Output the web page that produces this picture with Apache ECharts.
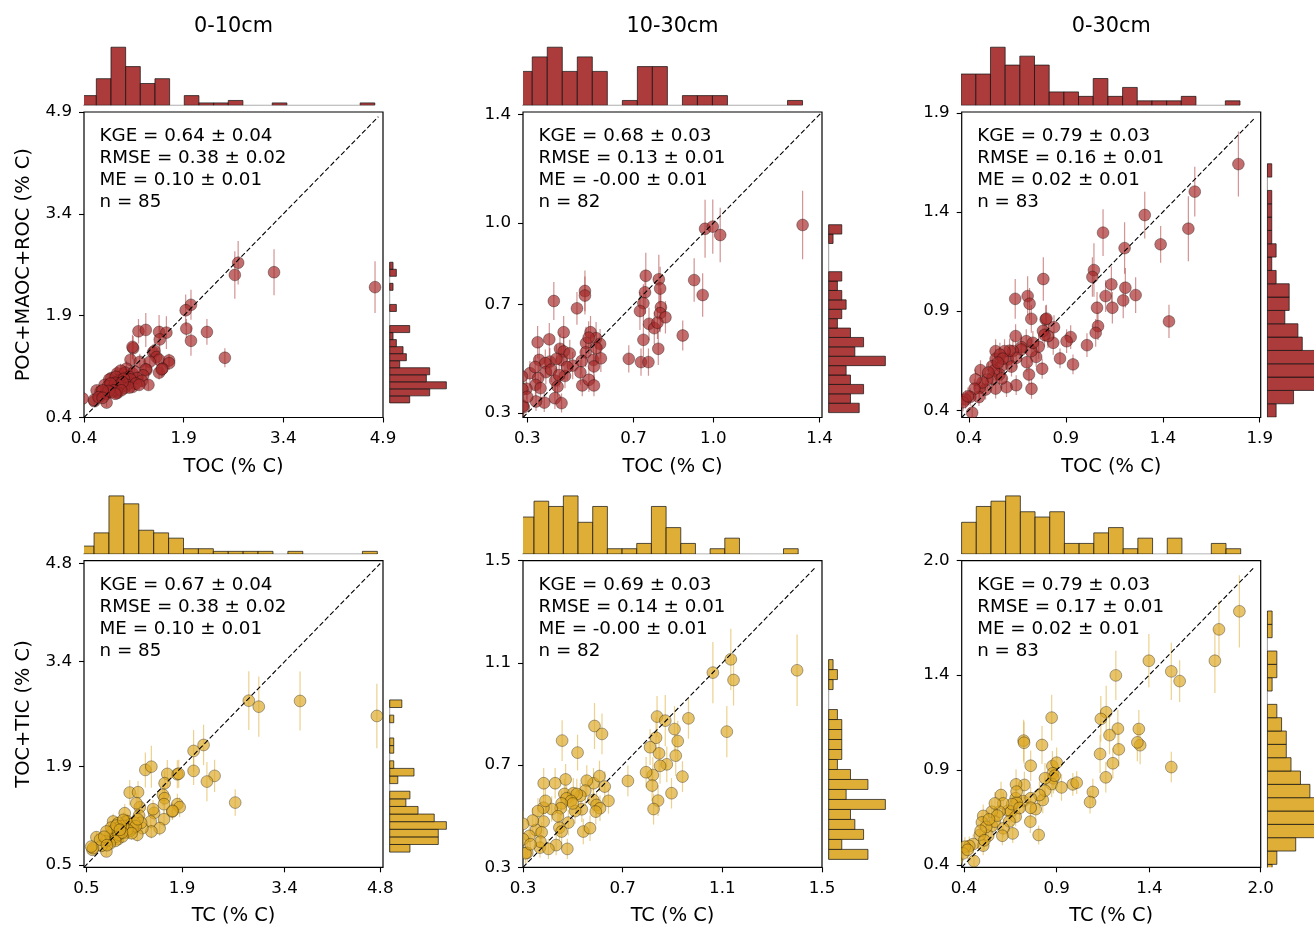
<!DOCTYPE html>
<html>
<head>
<meta charset="utf-8">
<script src="https://cdn.jsdelivr.net/npm/echarts@6/dist/echarts.min.js"></script>
<style>
  html, body { margin: 0; padding: 0; background: #fff; }
  #chart { width: 1314px; height: 926px; }
</style>
</head>
<body>
<div id="chart"></div>
<script>
// ---------------------------------------------------------------------------
// Observed vs. modelled soil carbon for three depth intervals.
// Each point: [observed, predicted, predicted uncertainty (1 sd)].
// ---------------------------------------------------------------------------
const depths = ['0-10cm', '10-30cm', '0-30cm'];
const xNames = ['TOC (% C)', 'TC (% C)'];
const yNames = ['POC+MAOC+ROC (% C)', 'TOC+TIC (% C)'];

// POC+MAOC+ROC vs TOC
const som_0_10 = [
  [4.78,2.32,0.38],[3.26,2.54,0.34],[2.72,2.68,0.32],[2.67,2.50,0.35],[2.52,1.28,0.14],[2.25,1.66,0.19],[2.01,2.06,0.22],[1.93,1.98,0.23],[1.94,1.71,0.14],[2.01,1.53,0.22],
  [1.22,1.67,0.18],[1.33,1.69,0.25],[1.53,1.66,0.25],[1.64,1.65,0.24],[1.54,1.55,0.20],
  [1.14,1.42,0.18],[1.13,1.44,0.18],[1.44,1.36,0.12],[1.46,1.38,0.13],
  [1.49,1.29,0.12],[1.10,1.25,0.10],[1.53,1.25,0.12],[1.68,1.24,0.10],
  [1.24,1.22,0.12],[1.39,1.22,0.12],[1.68,1.20,0.10],
  [1.34,1.10,0.10],[1.53,1.06,0.10],[1.58,1.12,0.10],[1.13,1.05,0.10],[1.04,1.12,0.12],[0.99,1.04,0.10],[0.90,1.05,0.10],[1.02,1.06,0.10],[1.33,1.11,0.10],[1.57,1.11,0.12],[1.16,1.08,0.10],[0.95,1.09,0.10],
  [1.29,1.02,0.10],[0.93,0.95,0.09],[0.81,0.98,0.09],[0.94,0.94,0.09],[0.78,0.96,0.08],[1.08,1.00,0.10],[1.20,0.98,0.10],[1.10,0.96,0.09],[0.88,1.00,0.10],[1.00,0.97,0.09],[1.27,0.94,0.10],
  [1.37,0.88,0.08],[1.13,0.85,0.08],[0.84,0.85,0.08],[0.71,0.88,0.08],[0.83,0.84,0.08],[0.95,0.90,0.08],[1.05,0.88,0.08],[0.97,0.86,0.08],[0.90,0.89,0.08],[1.18,0.90,0.09],[1.00,0.83,0.08],[0.76,0.86,0.07],[0.87,0.91,0.08],[1.08,0.84,0.08],[0.92,0.87,0.08],[1.23,0.88,0.08],[0.80,0.90,0.08],[0.98,0.92,0.08],
  [0.90,0.76,0.07],[0.73,0.75,0.07],[0.59,0.80,0.07],[0.72,0.74,0.07],[0.89,0.78,0.07],[0.85,0.80,0.07],[0.80,0.77,0.07],[0.65,0.78,0.07],[0.96,0.80,0.07],[0.77,0.79,0.07],[0.68,0.80,0.07],[0.87,0.75,0.07],
  [0.74,0.62,0.06],[0.555,0.64,0.06],[0.38,0.68,0.06],[0.55,0.66,0.06],[0.62,0.70,0.06],[0.68,0.69,0.06]
];
const som_10_30 = [
  [1.336,0.993,0.126],[0.969,0.979,0.107],[0.998,0.987,0.100],[1.026,0.956,0.100],
  [0.746,0.806,0.085],[0.795,0.793,0.090],[0.928,0.790,0.080],[0.960,0.735,0.080],[0.800,0.759,0.080],[0.743,0.745,0.080],[0.737,0.705,0.070],[0.724,0.676,0.070],[0.803,0.690,0.070],[0.800,0.668,0.070],[0.820,0.653,0.060],[0.758,0.629,0.060],[0.778,0.613,0.060],[0.790,0.633,0.060],[0.885,0.586,0.055],[0.737,0.570,0.060],[0.793,0.537,0.060],[0.682,0.500,0.050],[0.728,0.488,0.050],[0.756,0.488,0.050],
  [0.400,0.713,0.070],[0.517,0.750,0.075],[0.517,0.733,0.070],[0.487,0.686,0.060],[0.437,0.598,0.060],[0.339,0.561,0.060],[0.383,0.572,0.060],[0.521,0.558,0.060],[0.538,0.598,0.060],[0.559,0.576,0.060],[0.574,0.555,0.055],[0.531,0.578,0.060],
  [0.423,0.537,0.055],[0.437,0.527,0.055],[0.429,0.496,0.050],[0.385,0.490,0.050],[0.345,0.496,0.050],[0.368,0.484,0.050],[0.520,0.524,0.055],[0.549,0.496,0.050],[0.577,0.502,0.050],[0.551,0.472,0.050],[0.471,0.475,0.050],[0.505,0.492,0.050],
  [0.310,0.447,0.045],[0.370,0.451,0.045],[0.341,0.429,0.045],[0.442,0.437,0.045],[0.405,0.420,0.045],[0.414,0.398,0.040],[0.331,0.404,0.040],[0.350,0.392,0.040],[0.297,0.390,0.040],[0.507,0.402,0.040],[0.532,0.423,0.045],[0.551,0.402,0.040],
  [0.404,0.355,0.040],[0.429,0.337,0.035],[0.364,0.339,0.035],[0.333,0.343,0.035],[0.287,0.322,0.035],[0.280,0.435,0.045],[0.284,0.327,0.035],[0.282,0.388,0.040],
  [0.330,0.470,0.045],[0.390,0.460,0.045],[0.410,0.500,0.050],[0.420,0.440,0.045],[0.460,0.520,0.050],[0.450,0.470,0.050],[0.500,0.450,0.045],[0.560,0.540,0.055],[0.300,0.360,0.040],
  [0.245,0.360,0.040],[0.250,0.420,0.045],[0.235,0.330,0.035],[0.255,0.470,0.050],[0.240,0.400,0.040]
];
const som_0_30 = [
  [1.790,1.642,0.164],[1.565,1.503,0.126],[1.532,1.316,0.164],[1.307,1.385,0.118],[1.389,1.237,0.093],[1.432,0.848,0.084],
  [1.203,1.218,0.130],[1.207,1.018,0.100],[1.260,0.981,0.090],[1.196,0.954,0.090],
  [1.092,1.296,0.118],[1.045,1.107,0.135],[1.061,0.917,0.080],[1.066,0.824,0.070],[1.054,0.790,0.070],[1.105,0.976,0.080],
  [1.135,1.035,0.090],[1.140,0.917,0.080],
  [1.037,1.072,0.100],[1.009,0.728,0.060],
  [0.937,0.631,0.050],[0.925,0.769,0.060],[0.904,0.748,0.060],
  [0.870,0.661,0.050],[0.835,0.740,0.060],[0.839,0.819,0.060],
  [0.808,0.774,0.060],[0.782,0.800,0.060],[0.796,0.858,0.070],[0.784,1.062,0.110],[0.747,0.669,0.050],[0.778,0.609,0.050],[0.800,0.862,0.070],[0.790,0.780,0.060],[0.760,0.720,0.060],
  [0.703,0.976,0.100],[0.713,0.937,0.080],[0.722,0.861,0.070],[0.696,0.748,0.060],[0.670,0.718,0.060],[0.722,0.698,0.060],[0.699,0.642,0.050],[0.710,0.580,0.050],[0.723,0.508,0.050],[0.670,0.706,0.060],[0.730,0.740,0.060],
  [0.639,0.962,0.100],[0.641,0.774,0.060],[0.644,0.526,0.050],[0.594,0.516,0.050],[0.627,0.698,0.060],[0.601,0.656,0.050],[0.644,0.664,0.050],[0.610,0.700,0.060],[0.620,0.620,0.050],
  [0.538,0.509,0.050],[0.538,0.698,0.060],[0.584,0.698,0.060],[0.538,0.659,0.050],[0.520,0.622,0.050],[0.567,0.622,0.050],[0.558,0.580,0.050],[0.560,0.680,0.060],[0.575,0.660,0.050],[0.530,0.600,0.050],[0.550,0.640,0.050],[0.520,0.560,0.050],[0.570,0.560,0.050],
  [0.486,0.504,0.050],[0.460,0.602,0.050],[0.495,0.555,0.050],[0.455,0.513,0.050],[0.452,0.466,0.045],[0.470,0.540,0.050],[0.500,0.590,0.050],
  [0.434,0.555,0.050],[0.429,0.508,0.050],[0.407,0.467,0.045],[0.383,0.454,0.045],[0.417,0.387,0.040],[0.370,0.440,0.045],[0.395,0.470,0.045],
  [0.330,0.400,0.040]
];

// TOC+TIC vs TC
const tc_0_10 = [
  [4.750,2.624,0.46],[3.626,2.838,0.42],[2.876,2.842,0.42],[3.022,2.757,0.43],[2.677,1.388,0.19],[2.375,1.769,0.23],[2.214,2.210,0.29],[2.263,1.688,0.28],[2.068,2.125,0.30],[2.068,1.840,0.20],
  [1.830,1.792,0.20],[1.830,1.365,0.15],[1.864,1.322,0.14],[1.756,1.260,0.12],[1.850,1.800,0.20],[1.760,1.270,0.12],
  [1.683,1.797,0.20],[1.644,1.664,0.18],[1.620,1.498,0.16],[1.644,1.450,0.15],[1.635,1.365,0.14],[1.635,1.150,0.12],[1.571,1.023,0.11],[1.490,1.240,0.12],
  [1.362,1.854,0.25],[1.450,1.900,0.30],[1.280,1.322,0.14],[1.474,1.293,0.13],[1.270,1.203,0.12],[1.440,1.118,0.11],[1.450,0.975,0.10],[1.318,1.023,0.10],[1.300,1.100,0.11],
  [1.133,1.531,0.18],[1.255,1.536,0.16],[1.230,1.379,0.15],[1.060,1.236,0.13],[1.245,0.928,0.10],[1.182,1.023,0.10],[1.075,1.118,0.11],[1.060,1.008,0.10],[1.123,1.070,0.10],[1.172,1.023,0.10],[1.100,1.120,0.11],[1.150,1.080,0.10],[1.200,1.100,0.11],[1.080,0.960,0.09],[1.130,0.980,0.09],[1.220,1.050,0.10],[1.100,1.000,0.10],[1.160,0.950,0.09],[1.250,1.150,0.11],
  [1.036,1.056,0.10],[0.890,1.118,0.11],[0.963,1.094,0.10],[0.914,0.951,0.09],[0.865,0.856,0.08],[0.963,0.866,0.08],[1.026,0.904,0.09],[0.900,1.000,0.09],[0.950,1.020,0.10],[0.980,0.970,0.09],[1.000,1.050,0.10],[0.850,0.920,0.08],[0.880,0.980,0.09],[0.930,0.900,0.08],[0.970,0.930,0.09],[1.020,0.960,0.09],[0.860,1.030,0.10],[0.940,1.060,0.10],[1.040,1.140,0.11],[0.990,1.000,0.09],[0.920,0.840,0.08],[0.840,0.800,0.08],
  [0.792,0.975,0.09],[0.646,0.894,0.08],[0.782,0.833,0.08],[0.792,0.690,0.07],[0.719,0.771,0.07],[0.700,0.860,0.08],[0.760,0.900,0.08],[0.800,0.780,0.07],
  [0.588,0.714,0.06],[0.597,0.738,0.07],[0.570,0.760,0.07]
];
const tc_10_30 = [
  [1.400,1.071,0.14],[1.134,1.114,0.12],[1.145,1.033,0.10],[1.118,0.831,0.10],[1.062,1.062,0.12],[0.964,0.883,0.08],[0.940,0.655,0.06],
  [0.908,0.841,0.09],[0.921,0.794,0.08],[0.913,0.737,0.08],[0.877,0.703,0.07],[0.896,0.590,0.06],
  [0.838,0.890,0.08],[0.871,0.874,0.10],[0.834,0.807,0.08],[0.846,0.746,0.07],[0.850,0.697,0.07],[0.821,0.661,0.07],[0.818,0.620,0.06],[0.842,0.561,0.06],[0.824,0.528,0.06],
  [0.810,0.770,0.07],[0.794,0.672,0.06],
  [0.721,0.638,0.06],[0.643,0.560,0.05],
  [0.587,0.853,0.09],[0.617,0.822,0.08],[0.583,0.629,0.06],[0.607,0.657,0.06],[0.628,0.616,0.06],[0.582,0.563,0.05],[0.595,0.544,0.05],[0.609,0.531,0.05],[0.592,0.518,0.05],
  [0.556,0.639,0.06],[0.536,0.527,0.05],[0.542,0.440,0.05],[0.569,0.453,0.05],[0.550,0.600,0.06],[0.530,0.580,0.05],
  [0.519,0.749,0.07],[0.471,0.644,0.06],[0.466,0.587,0.06],[0.502,0.590,0.06],[0.516,0.587,0.06],[0.475,0.570,0.05],[0.493,0.560,0.05],[0.509,0.520,0.05],[0.482,0.475,0.05],[0.478,0.372,0.04],[0.500,0.550,0.05],
  [0.457,0.796,0.08],[0.429,0.629,0.06],[0.455,0.550,0.05],[0.451,0.531,0.05],[0.415,0.528,0.05],[0.446,0.455,0.05],[0.455,0.440,0.05],[0.433,0.387,0.04],[0.440,0.500,0.05],
  [0.383,0.629,0.06],[0.382,0.533,0.05],[0.383,0.479,0.05],[0.352,0.446,0.05],[0.375,0.437,0.04],[0.368,0.377,0.04],[0.402,0.372,0.04],[0.360,0.520,0.05],[0.390,0.560,0.05],[0.370,0.400,0.04],
  [0.339,0.483,0.05],[0.300,0.470,0.05],[0.325,0.423,0.04],[0.317,0.357,0.04],[0.310,0.355,0.04],[0.300,0.410,0.04],[0.330,0.390,0.04],
  [0.260,0.360,0.04],[0.270,0.420,0.04],[0.250,0.340,0.04],[0.265,0.390,0.04],[0.255,0.450,0.05]
];
const tc_0_30 = [
  [1.885,1.734,0.19],[1.775,1.639,0.15],[1.753,1.474,0.17],[1.518,1.418,0.15],[1.563,1.367,0.11],[1.518,0.915,0.08],
  [1.397,1.474,0.14],[1.343,1.115,0.10],[1.350,1.030,0.10],[1.335,1.045,0.10],
  [1.219,1.397,0.13],[1.230,1.117,0.10],[1.185,1.083,0.10],[1.235,1.008,0.09],[1.203,0.935,0.08],
  [1.167,1.203,0.14],[1.138,1.168,0.12],[1.134,0.984,0.10],[1.165,0.861,0.08],
  [1.095,0.784,0.07],[1.080,0.731,0.06],
  [0.987,0.824,0.06],[1.008,0.833,0.06],
  [0.873,1.175,0.12],[0.877,0.920,0.08],[0.900,0.938,0.08],[0.879,0.882,0.08],[0.882,0.856,0.08],[0.873,0.826,0.07],[0.926,0.808,0.07],[0.890,0.870,0.08],
  [0.821,1.031,0.10],[0.837,0.856,0.08],[0.825,0.742,0.07],[0.837,0.791,0.07],[0.807,0.768,0.07],[0.787,0.694,0.06],[0.803,0.558,0.05],
  [0.722,1.054,0.11],[0.724,1.043,0.11],[0.760,0.922,0.08],[0.726,0.821,0.07],[0.720,0.736,0.06],[0.760,0.751,0.06],[0.760,0.701,0.06],[0.758,0.628,0.06],
  [0.681,0.824,0.08],[0.679,0.751,0.06],[0.684,0.728,0.06],[0.639,0.686,0.06],[0.654,0.681,0.06],[0.679,0.654,0.05],[0.663,0.566,0.05],[0.684,0.786,0.07],[0.660,0.720,0.06],[0.645,0.630,0.05],[0.700,0.700,0.06],
  [0.600,0.768,0.07],[0.612,0.724,0.06],[0.591,0.680,0.06],[0.550,0.680,0.06],[0.550,0.605,0.05],[0.567,0.628,0.05],[0.612,0.593,0.05],[0.607,0.554,0.05],[0.567,0.724,0.06],[0.580,0.660,0.05],
  [0.504,0.658,0.06],[0.497,0.624,0.05],[0.531,0.554,0.05],[0.486,0.558,0.05],[0.504,0.502,0.05],[0.520,0.600,0.05],[0.490,0.580,0.05],[0.535,0.640,0.05],[0.510,0.530,0.05],
  [0.450,0.510,0.05],[0.429,0.500,0.05],[0.405,0.496,0.05],[0.396,0.461,0.04],[0.454,0.421,0.04],[0.420,0.480,0.05],
  [0.360,0.420,0.04]
];

// Marginal histograms: [first bin edge, bin width] and counts per bin
const edgeX = [[0.365,0.2206],[0.2623,0.0565],[0.360,0.0757],[0.393,0.2182],[0.2853,0.0589],[0.3874,0.0792]];
const histX_som_0_10  = [4,11,24,16,9,11,0,4,1,1,2,0,0,1,0,0,0,0,0,1];
const histX_som_10_30 = [7,10,12,7,10,7,0,1,8,8,0,2,2,2,0,0,0,0,1];
const histX_som_0_30  = [7,7,13,9,11,9,3,3,2,6,2,4,1,1,1,2,0,0,1];
const histX_tc_0_10   = [3,8,22,19,9,8,6,2,2,1,1,1,1,0,1,0,0,0,0,1];
const histX_tc_10_30  = [7,10,9,11,6,9,1,1,2,9,5,2,0,1,3,0,0,0,1];
const histX_tc_0_30   = [6,9,10,11,8,7,8,2,2,4,5,1,3,0,3,0,0,2,1];

const edgeY = [[0.615,0.1036],[0.302,0.0346],[0.365,0.0673],[0.681,0.1086],[0.331,0.0391],[0.3334,0.0701]];
const histY_som_0_10  = [6,12,17,11,12,3,5,4,2,1,6,0,0,2,0,0,1,0,2,1];
const histY_som_10_30 = [7,5,8,5,4,13,6,8,5,2,3,4,3,2,3,0,0,0,1,3];
const histY_som_0_30  = [2,6,12,13,11,8,7,4,5,5,2,1,2,1,1,1,1,0,1];
const histY_tc_0_10   = [5,12,12,14,11,7,4,5,0,2,6,1,0,1,1,0,0,1,0,3];
const histY_tc_10_30  = [9,3,8,6,5,13,4,9,5,2,3,3,3,3,2,0,0,1,2,1];
const histY_tc_0_30   = [1,2,6,10,12,11,9,7,5,4,4,3,2,0,1,2,2,0,1,1];

// Axis extents, tick labels and the 1:1 line
const limits = [[0.4,4.9],[0.284,1.409],[0.363,1.905],[0.464,4.84],[0.3,1.5],[0.388,2.0]];
const ticks = [[0.4,1.9,3.4,4.9],[0.3,0.7,1.0,1.4],[0.4,0.9,1.4,1.9],[0.5,1.9,3.4,4.8],[0.3,0.7,1.1,1.5],[0.4,0.9,1.4,2.0]];
const oneToOne = [[0.4,4.83],[0.284,1.404],[0.363,1.87],[0.464,4.80],[0.3,1.475],[0.388,1.96]];

// Skill scores
const kgeText  = ['0.64 ± 0.04','0.68 ± 0.03','0.79 ± 0.03','0.67 ± 0.04','0.69 ± 0.03','0.79 ± 0.03'];
const rmseText = ['0.38 ± 0.02','0.13 ± 0.01','0.16 ± 0.01','0.38 ± 0.02','0.14 ± 0.01','0.17 ± 0.01'];
const meText   = ['0.10 ± 0.01','-0.00 ± 0.01','0.02 ± 0.01','0.10 ± 0.01','-0.00 ± 0.01','0.02 ± 0.01'];
const nCount   = [85, 82, 83, 85, 82, 83];

// ---------------------------------------------------------------------------
const FONT = 'DejaVu Sans';
const palette = [
  { bar: 'rgba(165,42,42,0.92)', dot: 'rgba(165,42,42,0.68)', err: 'rgba(165,42,42,0.5)' },
  { bar: 'rgba(218,165,32,0.9)', dot: 'rgba(218,165,32,0.66)', err: 'rgba(218,165,32,0.5)' }
];
const points = [som_0_10, som_10_30, som_0_30, tc_0_10, tc_10_30, tc_0_30];
const histX = [histX_som_0_10, histX_som_10_30, histX_som_0_30, histX_tc_0_10, histX_tc_10_30, histX_tc_0_30];
const histY = [histY_som_0_10, histY_som_10_30, histY_som_0_30, histY_tc_0_10, histY_tc_10_30, histY_tc_0_30];

const colLeft = [84, 523, 961.7];
const colW = 299;
const rowTop = [112, 560.7];
const rowH = [305.5, 306.6];
const HIST = 61, GAP = 6.7, RHIST = 59.5;

const grids = [], xAxes = [], yAxes = [], series = [], texts = [];

function mainAxis(idx, lim, tv, isY) {
  return {
    gridIndex: idx, type: 'value', min: lim[0], max: lim[1],
    axisLine: { show: false }, splitLine: { show: false },
    axisTick: { show: true, inside: false, length: 5, customValues: tv, lineStyle: { color: '#000', width: 1.1 } },
    axisLabel: {
      show: true, customValues: tv, formatter: v => v.toFixed(1),
      color: '#000', fontSize: 16.7, fontFamily: FONT, margin: isY ? 12 : 12.5
    }
  };
}
function hiddenAxis(idx, min, max) {
  return { gridIndex: idx, type: 'value', min: min, max: max, show: false, splitLine: { show: false } };
}

const barStyle = fill => ({ fill: fill, stroke: 'rgba(20,20,20,0.9)', lineWidth: 0.8 });

points.forEach((pts, k) => {
  const r = Math.floor(k / 3), c = k % 3;
  const L = colLeft[c], T = rowTop[r], H = rowH[r];
  const col = palette[r];
  const gi = grids.length;
  const lim = limits[k];

  grids.push({ left: L, top: T, width: colW, height: H, show: true, borderColor: '#000', borderWidth: 1.2,
               backgroundColor: 'transparent', containLabel: false, outerBoundsMode: 'none' });
  grids.push({ left: L, top: T - GAP - HIST, width: colW, height: HIST, containLabel: false, outerBoundsMode: 'none' });
  grids.push({ left: L + colW + GAP, top: T, width: RHIST, height: H, containLabel: false, outerBoundsMode: 'none' });

  const hx = histX[k], hy = histY[k];
  const ex = edgeX[k], ey = edgeY[k];
  const maxX = Math.max.apply(null, hx), maxY = Math.max.apply(null, hy);

  xAxes.push(mainAxis(gi, lim, ticks[k], false));
  yAxes.push(mainAxis(gi, lim, ticks[k], true));
  xAxes.push(hiddenAxis(gi + 1, lim[0], lim[1]));
  yAxes.push(hiddenAxis(gi + 1, 0, maxX * 1.05));
  xAxes.push(hiddenAxis(gi + 2, 0, maxY * 1.05));
  yAxes.push(hiddenAxis(gi + 2, lim[0], lim[1]));

  // error bars
  series.push({
    type: 'custom', xAxisIndex: gi, yAxisIndex: gi, clip: true, silent: true, z: 2,
    data: pts,
    renderItem: (params, api) => {
      const x = api.value(0), y = api.value(1), e = api.value(2);
      const a = api.coord([x, y - e]), b = api.coord([x, y + e]);
      return { type: 'line', shape: { x1: a[0], y1: a[1], x2: b[0], y2: b[1] },
               style: { stroke: col.err, lineWidth: 1.2 } };
    }
  });
  // markers
  series.push({
    type: 'custom', xAxisIndex: gi, yAxisIndex: gi, clip: true, silent: true, z: 3,
    data: pts,
    renderItem: (params, api) => {
      const p = api.coord([api.value(0), api.value(1)]);
      return { type: 'circle', shape: { cx: p[0], cy: p[1], r: 5.9 },
               style: { fill: col.dot, stroke: 'rgba(0,0,0,0.55)', lineWidth: 0.6 } };
    }
  });
  // 1:1 line
  series.push({
    type: 'line', xAxisIndex: gi, yAxisIndex: gi, silent: true, z: 4, symbol: 'none',
    data: [[oneToOne[k][0], oneToOne[k][0]], [oneToOne[k][1], oneToOne[k][1]]],
    lineStyle: { color: '#000', width: 1.1, type: [5, 2.5] }
  });

  // top histogram
  series.push({
    type: 'line', xAxisIndex: gi + 1, yAxisIndex: gi + 1, silent: true, z: 1, symbol: 'none',
    data: [[ex[0], 0], [ex[0] + hx.length * ex[1], 0]],
    lineStyle: { color: 'rgba(90,90,90,0.6)', width: 1 }
  });
  series.push({
    type: 'custom', xAxisIndex: gi + 1, yAxisIndex: gi + 1, clip: true, silent: true, z: 2,
    data: hx.map((n, i) => [ex[0] + i * ex[1], n]),
    renderItem: (params, api) => {
      const x0 = api.value(0), n = api.value(1);
      if (!n) return null;
      const a = api.coord([x0, n]), b = api.coord([x0 + ex[1], 0]);
      return { type: 'rect', shape: { x: a[0], y: a[1], width: b[0] - a[0], height: b[1] - a[1] },
               style: barStyle(col.bar) };
    }
  });

  // right histogram
  series.push({
    type: 'line', xAxisIndex: gi + 2, yAxisIndex: gi + 2, silent: true, z: 1, symbol: 'none',
    data: [[0, ey[0]], [0, ey[0] + hy.length * ey[1]]],
    lineStyle: { color: 'rgba(90,90,90,0.6)', width: 1 }
  });
  series.push({
    type: 'custom', xAxisIndex: gi + 2, yAxisIndex: gi + 2, clip: true, silent: true, z: 2,
    data: hy.map((n, i) => [n, ey[0] + i * ey[1]]),
    renderItem: (params, api) => {
      const n = api.value(0), y0 = api.value(1);
      if (!n) return null;
      const a = api.coord([0, y0 + ey[1]]), b = api.coord([n, y0]);
      return { type: 'rect', shape: { x: a[0], y: a[1], width: b[0] - a[0], height: b[1] - a[1] },
               style: barStyle(col.bar) };
    }
  });

  // skill score block
  texts.push({
    type: 'text', x: L + 15.5, y: T + 13.5, silent: true, z: 10,
    style: {
      text: 'KGE = ' + kgeText[k] + '\nRMSE = ' + rmseText[k] + '\nME = ' + meText[k] + '\nn = ' + nCount[k],
      fill: '#000', fontSize: 18.3, fontFamily: FONT, lineHeight: 22,
      align: 'left', verticalAlign: 'top'
    }
  });
  // x-axis title
  texts.push({
    type: 'text', x: L + colW / 2, y: r === 0 ? 467 : 916, silent: true,
    style: { text: xNames[r], fill: '#000', fontSize: 19.4, fontFamily: FONT, align: 'center', verticalAlign: 'middle' }
  });
  if (r === 0) {
    texts.push({
      type: 'text', x: L + colW / 2, y: 27, silent: true,
      style: { text: depths[c], fill: '#000', fontSize: 20.8, fontFamily: FONT, align: 'center', verticalAlign: 'middle' }
    });
  }
  if (c === 0) {
    texts.push({
      type: 'text', x: 24, y: T + H / 2, rotation: Math.PI / 2, silent: true,
      style: { text: yNames[r], fill: '#000', fontSize: 19.4, fontFamily: FONT, align: 'center', verticalAlign: 'middle' }
    });
  }
});

const chart = echarts.init(document.getElementById('chart'), null, { renderer: 'canvas', width: 1314, height: 926 });
chart.setOption({
  backgroundColor: '#fff',
  animation: false,
  textStyle: { fontFamily: FONT },
  grid: grids,
  xAxis: xAxes,
  yAxis: yAxes,
  series: series,
  graphic: { elements: texts }
});
</script>
</body>
</html>
